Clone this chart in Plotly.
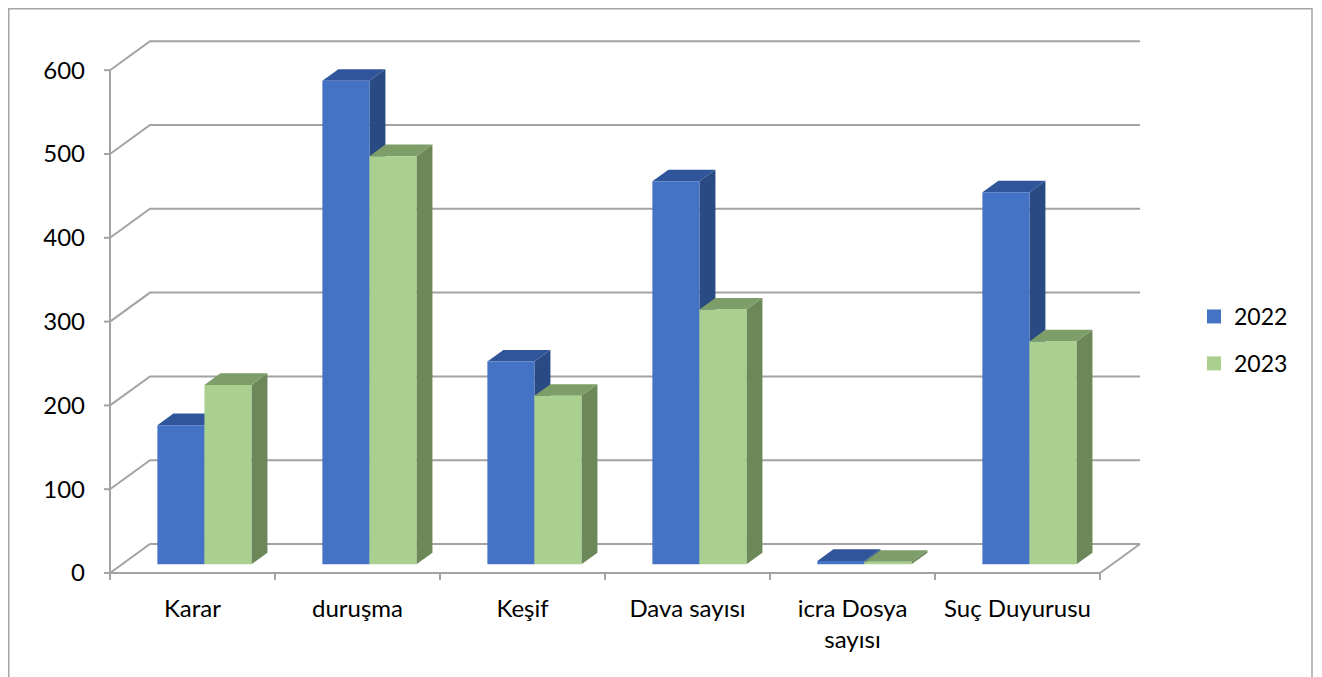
import plotly.graph_objects as go

# ---------------- data ----------------
categories = ["Karar", "duruşma", "Keşif", "Dava sayısı", "icra Dosya<br>sayısı", "Suç Duyurusu"]
series_names = ["2022", "2023"]
values_2022 = [166, 577, 242, 457, 4, 444]
values_2023 = [214, 487, 201, 304, 3, 266]
y_ticks = [0, 100, 200, 300, 400, 500, 600]

# ---------------- styling / geometry ----------------
FONT = "Lato"
W, H = 1322, 677
OFF = 8               # page body margin
PX_X = 165.0          # px per category unit
PX_Y = 0.838          # px per value unit
X0PX, Y0PX = 110.0 - OFF, 573.0 - OFF   # pixel of (0, 0) front corner
ML, MR, MT, MB = 92, 168, 12, 105
DX = 40.0 / PX_X      # depth offset in x units
DY = 29.0 / PX_Y      # depth offset in value units
D1, D2 = 0.30, 0.70   # bar depth span (fraction of floor depth)
BAR_W = 0.285
GROUP_LEFT = 0.2145

colors = {
    "2022": dict(front="#4472C4", top="#30559A", side="#294A82"),
    "2023": dict(front="#A9D08E", top="#7E9E69", side="#6C8858"),
}
GRID = "#A3A3A3"

xr0 = (ML - X0PX) / PX_X
xr1 = (W - MR - X0PX) / PX_X
yr0 = -((H - MB) - Y0PX) / PX_Y
yr1 = (Y0PX - MT) / PX_Y

fig = go.Figure()

def poly(xs, ys, color, width=0, lcolor=None):
    fig.add_trace(go.Scatter(
        x=xs + [xs[0]], y=ys + [ys[0]], mode="lines", fill="toself",
        fillcolor=color, line=dict(color=lcolor or color, width=width),
        hoverinfo="skip", showlegend=False))

def line(xs, ys, color=GRID, width=2):
    fig.add_trace(go.Scatter(x=xs, y=ys, mode="lines",
                             line=dict(color=color, width=width),
                             hoverinfo="skip", showlegend=False))

n = len(categories)
# back wall gridlines with left-wall diagonals
for v in y_ticks:
    line([0, DX, n + DX], [v, v + DY, v + DY])
# floor front edge and right diagonal
line([0, n, n + DX], [0, 0, DY])
# left axis line
line([0, 0], [0, y_ticks[-1]])
# y ticks
for v in y_ticks:
    line([-6 / PX_X, 0], [v, v])
# category boundary ticks
for k in range(n + 1):
    line([k, k], [0, -7 / PX_Y])

# bars
for i in range(n):
    for s, vals in enumerate([values_2022, values_2023]):
        name = series_names[s]
        v = vals[i]
        c = colors[name]
        xl = i + GROUP_LEFT + s * BAR_W
        xr = xl + BAR_W
        # side face
        poly([xr + D1 * DX, xr + D2 * DX, xr + D2 * DX, xr + D1 * DX],
             [D1 * DY, D2 * DY, v + D2 * DY, v + D1 * DY], c["side"])
        # top face
        poly([xl + D1 * DX, xr + D1 * DX, xr + D2 * DX, xl + D2 * DX],
             [v + D1 * DY, v + D1 * DY, v + D2 * DY, v + D2 * DY], c["top"])
        # front face
        poly([xl + D1 * DX, xr + D1 * DX, xr + D1 * DX, xl + D1 * DX],
             [D1 * DY, D1 * DY, v + D1 * DY, v + D1 * DY], c["front"])

# legend entries
for name in series_names:
    fig.add_trace(go.Scatter(
        x=[None], y=[None], mode="markers", name=name, legendgroup=name,
        marker=dict(symbol="square", size=14, color=colors[name]["front"])))

pw = W - ML - MR
ph = H - MT - MB
fig.add_shape(type="rect", xref="paper", yref="paper",
              x0=(0.75 - ML) / pw, x1=(1312 - OFF - ML) / pw,
              y0=-(720 - (H - MB)) / ph, y1=1 + (MT - 0.75) / ph,
              line=dict(color="#A6A6A6", width=1.5), layer="below")

fig.update_layout(
    width=W, height=H,
    margin=dict(l=ML, r=MR, t=MT, b=MB),
    paper_bgcolor="white", plot_bgcolor="white",
    font=dict(family=FONT, size=24, color="#000000"),
    xaxis=dict(range=[xr0, xr1], showgrid=False, zeroline=False, showline=False,
               tickmode="array", tickvals=[i + 0.5 for i in range(n)],
               ticktext=categories, ticks="", ticklabelstandoff=12,
               fixedrange=True),
    yaxis=dict(range=[yr0, yr1], showgrid=False, zeroline=False, showline=False,
               tickmode="array", tickvals=y_ticks, ticktext=[str(t) for t in y_ticks],
               ticks="", ticklabelstandoff=14, fixedrange=True),
    showlegend=True,
    legend=dict(xref="container", yref="container", x=1186 / W, y=1 - (340 - OFF) / H,
                xanchor="left", yanchor="middle", tracegroupgap=14,
                font=dict(family=FONT, size=23), bgcolor="rgba(0,0,0,0)"),
)

fig.write_html("out.html")
